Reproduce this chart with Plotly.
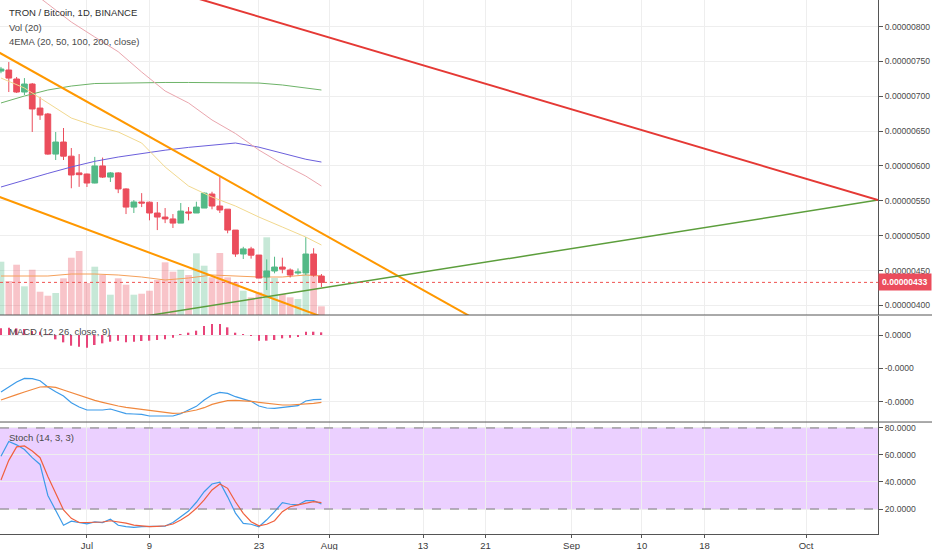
import pandas as pd
import plotly.graph_objects as go

# prices are in units of 1e-8 BTC (satoshi)
dates = pd.date_range('2018-06-20', '2018-07-31', freq='D')

open_ = [736, 737.6, 724.7, 706, 717.5, 683, 674.5, 617, 634.3, 614, 590,
         588.4, 575.5, 600, 584, 590, 567, 541, 548.3, 548, 532.5, 526.7,
         524, 518, 534, 532.5, 539.6, 559.7, 542.5, 538, 508, 473.7, 481,
         472.2, 440.7, 449.3, 455, 450.7, 446.4, 446.4, 473.7, 442]
high = [742, 749, 727.6, 726, 719, 698.9, 676, 648.7, 654.4, 625.7, 617,
        589, 613, 612, 591.3, 591, 568, 551, 561, 549, 548.3, 539.6,
        531, 546.8, 541, 548.7, 562, 563, 584, 538, 508, 484, 484,
        472.2, 466, 469.8, 468.4, 453, 453, 498, 482, 445]
low = [733, 706, 704.6, 701.7, 648.7, 666, 616, 608.5, 608.5, 568, 570,
       569.8, 575, 582.7, 577, 561, 531, 532.5, 541, 522, 508, 518,
       511, 518, 522, 532.5, 539.6, 537.8, 532.5, 503.4, 469.6, 466.5, 467,
       439, 422, 446, 446, 440, 444, 443.5, 441, 426.3]
close = [739, 726, 706, 717.5, 681.7, 673, 617, 634.3, 614, 587, 587.5,
         575.5, 600, 584, 590, 567, 541, 548.3, 546.8, 532.5, 526.7, 524,
         518, 535.3, 532.5, 541, 561, 542.5, 536.8, 508, 473.7, 481, 472,
         439.2, 449.3, 455, 452, 443.5, 447.8, 473.7, 443.5, 433]
volume = [533, 340, 503, 287, 453, 233, 193, 220, 367, 573, 640,
          320, 483, 400, 203, 367, 303, 203, 213, 243, 350, 527,
          433, 453, 400, 617, 493, 377, 620, 377, 330, 243, 177,
          227, 777, 370, 210, 177, 160, 410, 427, 87]

ema_dates = ['2018-06-20', '2018-06-23', '2018-06-26', '2018-06-29', '2018-07-02',
             '2018-07-05', '2018-07-08', '2018-07-11', '2018-07-14', '2018-07-17',
             '2018-07-20', '2018-07-23', '2018-07-26', '2018-07-29', '2018-07-31']
ema20 = [726.1, 711.8, 690.3, 668.7, 657.3, 648.7, 632.9, 598.5, 571.2, 555.4,
         542.5, 526.7, 512.4, 498.0, 486.6]
ema50 = [881, 858, 832.3, 806.4, 784.9, 763.8, 734.7, 707.5, 690.3, 665.9,
         646.5, 622.8, 602.8, 585.5, 571.2]
ema100 = [569.8, 579.8, 589.3, 598.5, 606.6, 612.8, 618.0, 622.6, 626.6, 630.2,
          632.9, 626.9, 617.7, 609.6, 605.6]
ema200 = [690.3, 700.3, 708.9, 714.6, 718.2, 718.9, 718.9, 719.7, 719.7, 719.7,
          719.7, 718.9, 716.1, 711.8, 708.9]
vol_ma = [390, 390, 390, 410, 410, 400, 380, 350, 370, 400, 390, 380, 380, 400, 390]

# drawn trend lines
red_x = ['2018-07-14', '2018-10-10 05:00']
red_y = [844, 551]
green_x = ['2018-07-05', '2018-10-10 05:00']
green_y = [378.6, 551]
upper_x = ['2018-06-19', '2018-08-20']
upper_y = [767.5, 378.1]
lower_x = ['2018-06-19', '2018-08-02']
lower_y = [559.0, 375.5]
last_price = 433

# MACD (units 1e-8)
macd = [-17.1, -15.5, -14.1, -13.0, -13.1, -13.7, -15.6, -17.0, -18.3, -20.3, -21.6,
        -22.5, -22.5, -22.5, -22.2, -22.8, -23.6, -23.7, -23.8, -24.3, -24.3, -24.3,
        -24.3, -23.6, -22.6, -21.4, -19.5, -18.0, -17.2, -17.5, -18.5, -19.1, -19.9,
        -21.3, -21.9, -22.0, -21.7, -21.5, -21.2, -19.8, -19.4, -19.3]
signal = [-19.5, -18.6, -17.9, -17.1, -16.3, -15.6, -15.5, -15.7, -16.5, -17.3, -18.1,
          -19.0, -19.6, -20.2, -20.8, -21.3, -21.7, -22.0, -22.4, -22.7, -23.0, -23.3,
          -23.5, -23.4, -23.0, -22.5, -21.8, -20.8, -20.2, -19.7, -19.6, -19.7, -19.9,
          -20.2, -20.5, -20.8, -21.0, -21.0, -20.9, -20.8, -20.5, -20.2]
hist = [2.0, 2.2, 2.0, 1.8, 1.2, 1.0, 0.3, -1.3, -2.2, -3.2, -3.5,
        -3.8, -3.0, -2.5, -2.0, -1.7, -2.2, -2.0, -1.8, -1.7, -1.5, -1.3,
        -0.8, 0.1, 0.7, 1.3, 2.7, 3.3, 3.3, 2.3, 0.7, 0.1, -0.3,
        -1.7, -1.7, -1.5, -1.0, -0.8, -0.5, 1.0, 1.0, 0.8]

# Stochastic
stoch_k = [59, 70, 67.5, 64, 58, 53, 30, 19, 8, 11, 10,
           9, 10.5, 10, 12.4, 8, 7, 6.4, 7, 7, 7.2, 7.4,
           10, 14, 18.5, 25, 32.8, 38.5, 39.8, 29, 17, 9.4, 8.7,
           6.9, 12, 18, 24.7, 23.5, 23, 26.2, 26.2, 23.7]
stoch_d = [41.5, 56, 66, 66.7, 63, 58, 44, 31.6, 19.3, 13.1, 10,
           10, 10.1, 10.4, 11.3, 10.6, 9.5, 8.1, 7.5, 6.9, 7.2, 7.6,
           8.9, 11.9, 15.6, 20.5, 26.7, 34.1, 38.5, 35.3, 25.4, 16.8, 10.6,
           7.6, 8.7, 11.3, 18, 21.7, 23, 24.2, 25.4, 24.7]

tick_dates = ['2018-07-01', '2018-07-09', '2018-07-23', '2018-08-01', '2018-08-13',
              '2018-08-21', '2018-09-01', '2018-09-10', '2018-09-18', '2018-10-01']
tick_text = ['Jul', '9', '23', 'Aug', '13', '21', 'Sep', '10', '18', 'Oct']
price_ticks = [400, 450, 500, 550, 600, 650, 700, 750, 800]
macd_ticks = [0, -10, -20]
macd_text = ['0.0000', '-0.0000', '-0.0000']
stoch_ticks = [20, 40, 60, 80]

UP = '#53b987'
DOWN = '#eb4d5c'
GRID = '#eeeeee'
AXIS = '#555555'
xr = ['2018-06-19 21:00', '2018-10-10 05:00']

vol_colors = ['rgba(83,185,135,0.33)' if c >= o else 'rgba(235,77,92,0.33)'
              for o, c in zip(open_, close)]

fig = go.Figure()

# volume on the base axis so it sits under the candles
fig.add_trace(go.Bar(x=dates, y=volume, marker=dict(color=vol_colors, line=dict(width=0)),
                     xaxis='x', yaxis='y'))
fig.add_trace(go.Scatter(x=ema_dates, y=vol_ma, mode='lines', line=dict(color='#f5a05a', width=1),
                         xaxis='x', yaxis='y'))

for vals, col in [(ema200, '#6db368'), (ema100, '#6b5fdc'), (ema50, '#eaa6ae'), (ema20, '#f2d98f')]:
    fig.add_trace(go.Scatter(x=ema_dates, y=vals, mode='lines', line=dict(color=col, width=1),
                             xaxis='x', yaxis='y4'))

fig.add_trace(go.Candlestick(x=dates, open=open_, high=high, low=low, close=close,
                             increasing=dict(line=dict(color=UP, width=1), fillcolor=UP),
                             decreasing=dict(line=dict(color=DOWN, width=1), fillcolor=DOWN),
                             whiskerwidth=0, xaxis='x', yaxis='y4'))

for lx, ly, col, w in [(upper_x, upper_y, '#ff9800', 2), (lower_x, lower_y, '#ff9800', 2),
                       (green_x, green_y, '#5c9e3c', 1.5), (red_x, red_y, '#e53935', 2)]:
    fig.add_trace(go.Scatter(x=lx, y=ly, mode='lines', line=dict(color=col, width=w),
                             xaxis='x', yaxis='y4'))

# MACD
fig.add_trace(go.Bar(x=dates, y=hist, width=0.2 * 86400000, marker=dict(color='#e8457a', line=dict(width=0)),
                     xaxis='x2', yaxis='y2'))
fig.add_trace(go.Scatter(x=dates, y=macd, mode='lines', line=dict(color='#3d9be9', width=1.2),
                         xaxis='x2', yaxis='y2'))
fig.add_trace(go.Scatter(x=dates, y=signal, mode='lines', line=dict(color='#f0883e', width=1.2),
                         xaxis='x2', yaxis='y2'))

# Stoch
fig.add_trace(go.Scatter(x=dates, y=stoch_k, mode='lines', line=dict(color='#3d9be9', width=1.2),
                         xaxis='x3', yaxis='y3'))
fig.add_trace(go.Scatter(x=dates, y=stoch_d, mode='lines', line=dict(color='#f0603e', width=1.2),
                         xaxis='x3', yaxis='y3'))

shapes = [
    dict(type='rect', xref='x3 domain', yref='y3', x0=0, x1=1, y0=20, y1=80,
         fillcolor='rgba(153,21,255,0.2)', line=dict(width=0), layer='below'),
    dict(type='line', xref='x3 domain', yref='y3', x0=0, x1=1, y0=80, y1=80,
         line=dict(color='#7a7a7a', width=1, dash='dash')),
    dict(type='line', xref='x3 domain', yref='y3', x0=0, x1=1, y0=20, y1=20,
         line=dict(color='#7a7a7a', width=1, dash='dash')),
    dict(type='line', xref='x domain', yref='y4', x0=0, x1=1, y0=last_price, y1=last_price,
         line=dict(color='#ef5350', width=1, dash='dot')),
    dict(type='line', xref='paper', yref='paper', x0=0, x1=932 / 878, y0=0.4101, y1=0.4101,
         line=dict(color=AXIS, width=1)),
    dict(type='line', xref='paper', yref='paper', x0=0, x1=932 / 878, y0=0.2097, y1=0.2097,
         line=dict(color=AXIS, width=1)),
]

def note(text, x, y, size=9.5, color='#4a4a4a'):
    return dict(text=text, x=x, y=y, xref='paper', yref='paper', xanchor='left', yanchor='middle',
                showarrow=False, font=dict(size=size, color=color))

annotations = [
    note('TRON / Bitcoin, 1D, BINANCE', 7 / 878, 0.9757, color='#2e2e2e'),
    note('Vol (20)', 7 / 878, 0.9494),
    note('4EMA (20, 50, 100, 200, close)', 7 / 878, 0.9232),
    note('MACD (12, 26, close, 9)', 7 / 878, 0.380),
    note('Stoch (14, 3, 3)', 7 / 878, 0.1816),
    dict(text='<b>0.00000433</b>', x=1, y=last_price, xref='paper', yref='y4', xanchor='left',
         yanchor='middle', showarrow=False, bgcolor=DOWN, borderpad=3,
         font=dict(size=8.6, color='white')),
]

xcommon = dict(range=xr, tickvals=tick_dates, showgrid=True, gridcolor=GRID, zeroline=False)
ycommon = dict(side='right', showgrid=True, gridcolor=GRID, zeroline=False, ticks='outside',
               ticklen=4, tickcolor=AXIS, showline=True, linecolor=AXIS, linewidth=1,
               tickfont=dict(size=8.6, color='#4a4a4a'))

fig.update_layout(
    width=932, height=550,
    margin=dict(l=0, r=54, t=0, b=16),
    paper_bgcolor='white', plot_bgcolor='white',
    showlegend=False, bargap=0.14, boxgap=0.27, boxgroupgap=0,
    font=dict(family='Liberation Sans, Arial, sans-serif', size=9, color='#4a4a4a'),
    xaxis=dict(xcommon, anchor='y', showticklabels=False, matches='x3',
               rangeslider=dict(visible=False)),
    xaxis2=dict(xcommon, anchor='y2', showticklabels=False, matches='x3'),
    xaxis3=dict(xcommon, anchor='y3', ticktext=tick_text, ticks='outside', ticklen=3,
                tickcolor=AXIS, showline=True, linecolor=AXIS,
                tickfont=dict(size=9.5, color='#3a3a3a')),
    yaxis=dict(domain=[0.4101, 1], range=[0, 3150], showticklabels=False, showgrid=False,
               zeroline=False, showline=False, fixedrange=True),
    yaxis4=dict(ycommon, overlaying='y', anchor='x', range=[386.2, 838],
                tickvals=price_ticks, ticktext=['%.8f' % (v / 1e8) for v in price_ticks]),
    yaxis2=dict(ycommon, domain=[0.2097, 0.4082], anchor='x2', range=[-26.1, 5.7],
                tickvals=macd_ticks, ticktext=macd_text),
    yaxis3=dict(ycommon, domain=[0, 0.2097], anchor='x3', range=[1.5, 84.4],
                tickvals=stoch_ticks, ticktext=['%.4f' % v for v in stoch_ticks]),
    shapes=shapes,
    annotations=annotations,
)

# page margin off so the 932x550 figure fills the window exactly
fig.write_html('out.html', config={'displayModeBar': False},
               post_script="document.body.style.margin='0';")
